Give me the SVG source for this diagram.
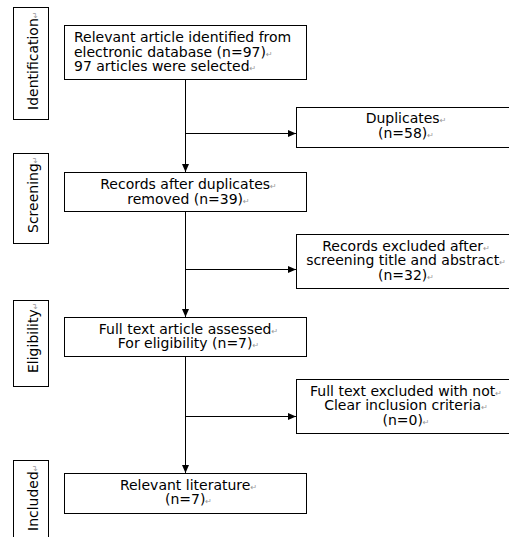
<svg xmlns="http://www.w3.org/2000/svg" width="509" height="537" viewBox="0 0 509 537">
<style>
  .box { fill: #fff; stroke: #000; stroke-width: 1; }
  .t { font-family: "DejaVu Sans", "Noto Sans", sans-serif; font-size: 14px; fill: #000; }
  .c { text-anchor: middle; }
  .pm { font-size: 8px; fill: #999; }
  .ln { stroke: #000; stroke-width: 1; fill: none; }
</style>
<defs>
  <marker id="ah" markerWidth="8" markerHeight="8" refX="8" refY="4" orient="auto" markerUnits="userSpaceOnUse">
    <path d="M0,0.5 L8,4 L0,7.5 Z" fill="#000"/>
  </marker>
</defs>
<rect width="509" height="537" fill="#fff"/>

<g id="stage-identification">
  <rect class="box" x="13.5" y="7.5" width="35" height="112"/>
  <text class="t" transform="translate(37.5,110) rotate(-90)">Identification<tspan class="pm">↵</tspan></text>
</g>
<g id="stage-screening">
  <rect class="box" x="13.5" y="153.5" width="35" height="90"/>
  <text class="t" transform="translate(37.5,233) rotate(-90)">Screening<tspan class="pm">↵</tspan></text>
</g>
<g id="stage-eligibility">
  <rect class="box" x="13.5" y="300.5" width="35" height="86"/>
  <text class="t" transform="translate(37.5,373) rotate(-90)">Eligibility<tspan class="pm">↵</tspan></text>
</g>
<g id="stage-included">
  <rect class="box" x="13.5" y="460.5" width="35" height="90"/>
  <text class="t" transform="translate(37.5,531) rotate(-90)">Included<tspan class="pm">↵</tspan></text>
</g>

<g id="connectors">
  <line class="ln" x1="185.5" y1="79.5" x2="185.5" y2="172" marker-end="url(#ah)"/>
  <line class="ln" x1="185.5" y1="133.5" x2="296" y2="133.5" marker-end="url(#ah)"/>
  <line class="ln" x1="185.5" y1="211.5" x2="185.5" y2="317" marker-end="url(#ah)"/>
  <line class="ln" x1="185.5" y1="269.5" x2="296" y2="269.5" marker-end="url(#ah)"/>
  <line class="ln" x1="185.5" y1="356.5" x2="185.5" y2="473" marker-end="url(#ah)"/>
  <line class="ln" x1="185.5" y1="416.5" x2="296" y2="416.5" marker-end="url(#ah)"/>
</g>

<g id="identified">
  <rect class="box" x="64.5" y="25.5" width="242" height="54"/>
  <text class="t"><tspan x="74" y="42">Relevant article identified from</tspan><tspan x="74" y="56.5">electronic database (n=97)<tspan class="pm">↵</tspan></tspan><tspan x="74" y="71">97 articles were selected<tspan class="pm">↵</tspan></tspan></text>
</g>
<g id="duplicates">
  <rect class="box" x="296.5" y="107.5" width="220" height="40"/>
  <text class="t c"><tspan x="406" y="123.25">Duplicates<tspan class="pm">↵</tspan></tspan><tspan x="406" y="137.75">(n=58)<tspan class="pm">↵</tspan></tspan></text>
</g>
<g id="screened">
  <rect class="box" x="64.5" y="172.5" width="242" height="39"/>
  <text class="t c"><tspan x="188.5" y="189">Records after duplicates<tspan class="pm">↵</tspan></tspan><tspan x="188.5" y="204">removed (n=39)<tspan class="pm">↵</tspan></tspan></text>
</g>
<g id="excluded-screening">
  <rect class="box" x="296.5" y="234.5" width="220" height="54"/>
  <text class="t c"><tspan x="406" y="250.5">Records excluded after<tspan class="pm">↵</tspan></tspan><tspan x="406" y="265">screening title and abstract<tspan class="pm">↵</tspan></tspan><tspan x="406" y="279.5">(n=32)<tspan class="pm">↵</tspan></tspan></text>
</g>
<g id="eligible">
  <rect class="box" x="64.5" y="317.5" width="242" height="39"/>
  <text class="t c"><tspan x="188.5" y="333.75">Full text article assessed<tspan class="pm">↵</tspan></tspan><tspan x="188.5" y="348.25">For eligibility (n=7)<tspan class="pm">↵</tspan></tspan></text>
</g>
<g id="excluded-fulltext">
  <rect class="box" x="296.5" y="379.5" width="220" height="54"/>
  <text class="t c"><tspan x="406" y="395.5">Full text excluded with not<tspan class="pm">↵</tspan></tspan><tspan x="406" y="410">Clear inclusion criteria<tspan class="pm">↵</tspan></tspan><tspan x="406" y="424.5">(n=0)<tspan class="pm">↵</tspan></tspan></text>
</g>
<g id="included">
  <rect class="box" x="64.5" y="473.5" width="242" height="40"/>
  <text class="t c"><tspan x="188.5" y="489.75">Relevant literature<tspan class="pm">↵</tspan></tspan><tspan x="188.5" y="504.25">(n=7)<tspan class="pm">↵</tspan></tspan></text>
</g>
</svg>
